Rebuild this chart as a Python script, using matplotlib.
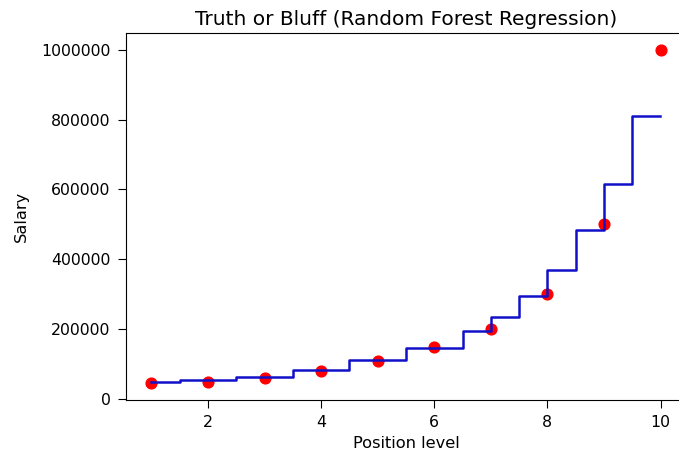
import numpy as np
import matplotlib.pyplot as plt

# position levels and salaries
level = [1, 2, 3, 4, 5, 6, 7, 8, 9, 10]
salary = [45000, 50000, 60000, 80000, 110000, 150000, 200000, 300000, 500000, 1000000]

# random forest prediction: step edges and the value on each step
edges = [1.0, 1.5, 2.5, 3.5, 4.5, 5.5, 6.5, 7.0, 7.5, 8.0, 8.5, 9.0, 9.5, 9.99]
pred = [50000, 54000, 62000, 82000, 112000, 145000, 195000, 235000, 295000,
        368000, 483000, 615000, 810000]

fig = plt.figure(figsize=(6.79, 4.54), dpi=100)
ax = fig.add_axes([126/679, 1-400/454, 560/679, 367/454])

ax.scatter(level, salary, color='red', s=60, zorder=1)
ax.step(edges, pred + [pred[-1]], where='post', color='#1010c8', lw=1.8, zorder=2)

ax.set_xlim(0.55, 10.45)
ax.set_ylim(-2750, 1047750)
ax.set_title('Truth or Bluff (Random Forest Regression)', fontsize=14.5)
ax.set_xlabel('Position level', fontsize=11.7, labelpad=4)
ax.set_ylabel('Salary', fontsize=11.7, labelpad=9)
ax.ticklabel_format(axis='y', style='plain')
ax.tick_params(labelsize=11.3, length=6, pad=5)

plt.savefig('out.png')
